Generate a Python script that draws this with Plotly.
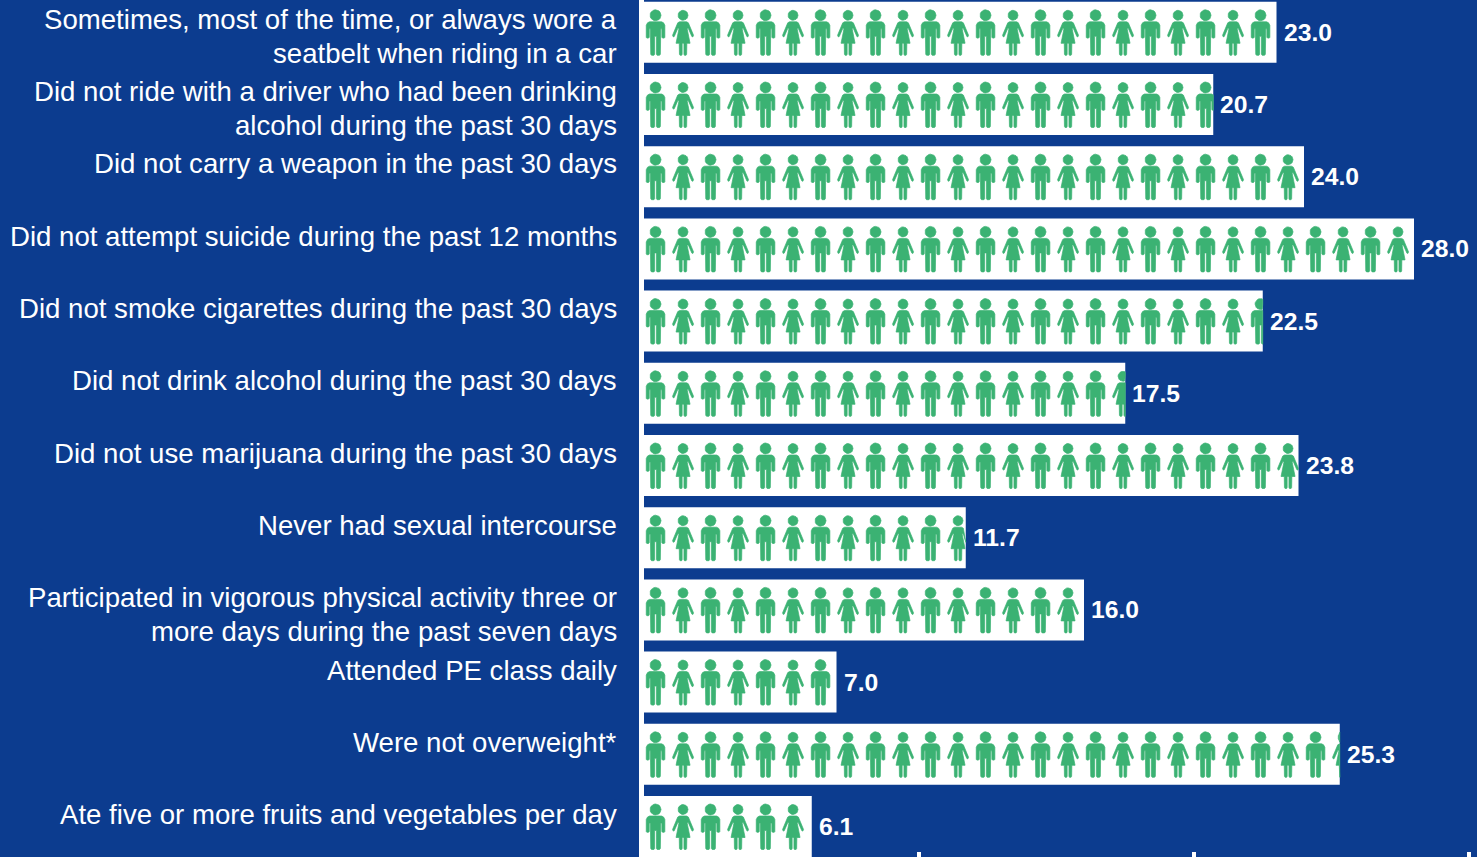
import math
import plotly.graph_objects as go

categories = [
    "Sometimes, most of the time, or always wore a<br>seatbelt when riding in a car",
    "Did not ride with a driver who had been drinking<br>alcohol during the past 30 days",
    "Did not carry a weapon in the past 30 days",
    "Did not attempt suicide during the past 12 months",
    "Did not smoke cigarettes during the past 30 days",
    "Did not drink alcohol during the past 30 days",
    "Did not use marijuana during the past 30 days",
    "Never had sexual intercourse",
    "Participated in vigorous physical activity three or<br>more days during the past seven days",
    "Attended PE class daily",
    "Were not overweight*",
    "Ate five or more fruits and vegetables per day",
]
values = [23.0, 20.7, 24.0, 28.0, 22.5, 17.5, 23.8, 11.7, 16.0, 7.0, 25.3, 6.1]
x_ticks = [10, 20, 30]

NAVY = "#0C3C8F"
GREEN = "#3BB273"
W, H = 1477, 857
X0 = 644            # pixel of x = 0
PX_X = 27.5         # pixels per x unit
ROW0 = 32.3         # pixel of first row centre
PX_Y = 72.2         # pixels per row


def half_to_full(half):
    return half + [(-x, y) for x, y in reversed(half)]


MAN = half_to_full([(0, -10.5), (6, -10.5), (8, -9.5), (9.3, -7), (9.3, 5), (8.7, 5.8), (7, 5.8), (6.3, 5),
                    (6.3, -3.5), (5.2, -3.5), (4.8, 22), (4, 23), (1.6, 23), (0.9, 22), (0.9, 4), (0, 4)])
WOMAN = half_to_full([(0, -10.5), (3.5, -10.5), (5.3, -9.5), (10.5, 3), (9.8, 4.6), (8.8, 4.2), (5.2, -4), (4, -4),
                      (7, 11), (3.8, 11), (3.6, 22), (3, 23), (1.4, 23), (0.9, 22), (0.9, 11), (0, 11)])
HEAD_M = [(5.5 * math.cos(a * math.pi / 10), -17 + 5.5 * math.sin(a * math.pi / 10)) for a in range(20)]
HEAD_W = [(5.0 * math.cos(a * math.pi / 10), -17 + 5.0 * math.sin(a * math.pi / 10)) for a in range(20)]


def icon_paths(row, value):
    xs, ys = [], []
    for i in range(math.ceil(value)):
        if value - i < 0.15:   # too small a slice of a figure to appear
            continue
        man = i % 2 == 0
        cx = i + 0.42
        for poly in ((MAN, HEAD_M) if man else (WOMAN, HEAD_W)):
            for px, py in poly + poly[:1]:
                xs.append(min(cx + px / PX_X, value))
                ys.append(row + py / PX_Y)
            xs.append(None)
            ys.append(None)
    return xs, ys


fig = go.Figure()
rows = list(range(len(categories)))
fig.add_trace(go.Bar(x=values, y=rows, orientation="h", width=61 / PX_Y,
                     marker=dict(color="white", line=dict(width=0)), showlegend=False))
for row, value in zip(rows, values):
    xs, ys = icon_paths(row, value)
    fig.add_trace(go.Scatter(x=xs, y=ys, mode="lines", fill="toself", fillcolor=GREEN,
                             line=dict(color=GREEN, width=0.7, shape="linear"),
                             hoverinfo="skip", showlegend=False))

annotations = []
for row, (cat, value) in enumerate(zip(categories, values)):
    for k, line in enumerate(cat.split("<br>")):
        annotations.append(dict(xref="paper", yref="paper", x=618 / W, y=1 - (19 + 72.36 * row + 34 * k) / H,
                                xanchor="right", yanchor="middle", align="right", text=line, showarrow=False,
                                borderpad=0, font=dict(family="Liberation Sans", size=27.6, color="white")))
    annotations.append(dict(xref="x", yref="y", x=value, y=row, xanchor="left", yanchor="middle", xshift=6,
                            text="<b>%.1f</b>" % value, showarrow=False, borderpad=0,
                            font=dict(family="Liberation Sans", size=24.7, color="white")))

fig.update_layout(
    width=W, height=H, margin=dict(l=0, r=0, t=0, b=0), paper_bgcolor=NAVY, plot_bgcolor=NAVY,
    showlegend=False, annotations=annotations,
    xaxis=dict(domain=[X0 / W, 1], range=[0, (W - X0) / PX_X], showgrid=False, zeroline=False,
               tickvals=x_ticks, ticks="inside", ticklen=5, tickwidth=4, tickcolor="white",
               showticklabels=False, showline=False),
    yaxis=dict(range=[(H - ROW0) / PX_Y, -ROW0 / PX_Y], showgrid=False, zeroline=False, showticklabels=False,
               ticks="", showline=True, linecolor="white", linewidth=5),
)
fig.write_html("out.html", config={"displayModeBar": False},
               post_script="document.body.style.margin='0';document.body.style.background='%s';" % NAVY)
